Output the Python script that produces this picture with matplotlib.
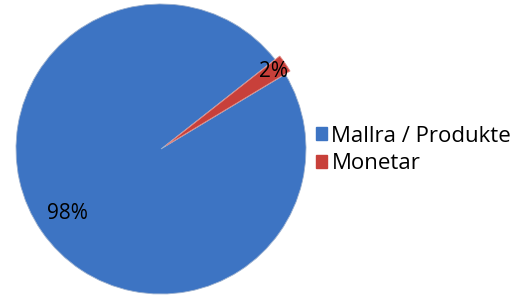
import matplotlib
matplotlib.use("Agg")
import matplotlib.pyplot as plt
import numpy as np
from matplotlib.patches import Patch

categories = ["Mallra / Produkte", "Monetar"]
values = [98, 2]
labels = ["98%", "2%"]
colors = ["#3D74C3", "#C8403A"]

W, H = 525, 299
fig = plt.figure(figsize=(W/100, H/100), dpi=100)
cx, cy, r = 161, 150, 145
ax = fig.add_axes([(cx-r)/W, (cy-r)/H, 2*r/W, 2*r/H])
wedges, _ = ax.pie(values, colors=colors, startangle=31.0, counterclock=False,
                   explode=[0, 0.04], radius=1.0,
                   wedgeprops=dict(linewidth=0.6, edgecolor="#9fb3d0"))
wedges[1].set_edgecolor("#e08a85")
ax.set_xlim(-1, 1)
ax.set_ylim(-1, 1)
ax.set_aspect("equal")
ax.axis("off")

dists = [0.78, 0.94]
for w, lab, d in zip(wedges, labels, dists):
    ang = np.deg2rad((w.theta1 + w.theta2) / 2)
    ax.text(d*np.cos(ang), d*np.sin(ang), lab, ha="center", va="center",
            fontsize=15, family="Open Sans", color="black")

handles = [Patch(facecolor=c, edgecolor=c) for c in colors]
fig.legend(handles, categories, loc="center left", bbox_to_anchor=(307/W, 1-150/H),
           frameon=False, prop=dict(family="Open Sans", size=16),
           handlelength=0.5, handleheight=0.5, handletextpad=0.2,
           labelspacing=0.3, borderaxespad=0)
fig.savefig("out.png", dpi=100)
